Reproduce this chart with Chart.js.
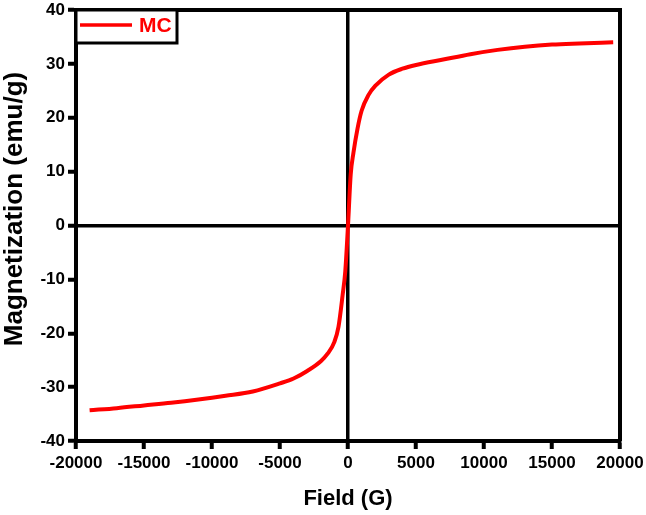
<!DOCTYPE html>
<html>
<head>
<meta charset="utf-8">
<script src="https://cdn.jsdelivr.net/npm/chart.js@4.4.1/dist/chart.umd.min.js"></script>
<style>
  html, body { margin: 0; padding: 0; background: #fff; }
  #wrap { width: 646px; height: 515px; position: relative; }
</style>
</head>
<body>
<div id="wrap"><canvas id="c" width="646" height="515"></canvas></div>
<script>
// ---- data ----
const seriesLabel = "MC";
const fieldG = [-19000, -17000, -15000, -13000, -11000, -9000, -7000, -5000, -4000, -3000, -2000, -1500, -1000, -700, -400, -200, 0,
                200, 400, 700, 1000, 1500, 2000, 3000, 4000, 5000, 7000, 9000, 11000, 13000, 15000, 17000, 19500];
const magnetization = [-34.3, -33.9, -33.4, -32.9, -32.3, -31.6, -30.8, -29.3, -28.4, -27.0, -25.2, -23.8, -21.6, -18.8, -13.0, -8.5, 0,
                9.5, 13.5, 18.0, 21.3, 24.2, 25.9, 28.0, 29.1, 29.8, 30.8, 31.8, 32.6, 33.2, 33.6, 33.8, 34.0];
const xTicks = { min: -20000, max: 20000, step: 5000 };
const yTicks = { min: -40, max: 40, step: 10 };
const xTitle = "Field (G)";
const yTitle = "Magnetization (emu/g)";

const points = fieldG.map((x, i) => ({ x: x, y: magnetization[i] }));

const FONT = "'Liberation Sans', Arial, sans-serif";

const framePlugin = {
  id: 'frame',
  afterDraw(chart) {
    const { ctx, chartArea: a } = chart;
    ctx.save();
    ctx.strokeStyle = '#000';
    ctx.lineWidth = 4;
    ctx.beginPath();
    ctx.moveTo(a.left - 2, a.top);
    ctx.lineTo(a.right, a.top);
    ctx.lineTo(a.right, a.bottom);
    ctx.stroke();
    // legend box
    const bx = a.left, by = a.top, bw = 101, bh = 33;
    ctx.fillStyle = '#fff';
    ctx.fillRect(bx, by, bw, bh);
    ctx.lineWidth = 3;
    ctx.strokeRect(bx, by, bw, bh);
    const ds = chart.data.datasets[0];
    ctx.strokeStyle = ds.borderColor;
    ctx.lineWidth = 3.5;
    ctx.beginPath();
    ctx.moveTo(bx + 4, by + 15);
    ctx.lineTo(bx + 56, by + 15);
    ctx.stroke();
    ctx.fillStyle = ds.borderColor;
    ctx.font = "bold 21px " + FONT;
    ctx.textBaseline = 'middle';
    ctx.textAlign = 'left';
    ctx.fillText(ds.label, bx + 63, by + 16);
    // y axis title
    ctx.fillStyle = '#000';
    ctx.font = "bold 26px " + FONT;
    ctx.textAlign = 'center';
    ctx.translate(15, 209);
    ctx.rotate(-Math.PI / 2);
    ctx.fillText(yTitle, 0, 0);
    ctx.restore();
  }
};

const plainTick = v => String(v);

new Chart(document.getElementById('c'), {
  type: 'line',
  data: {
    datasets: [{
      label: seriesLabel,
      data: points,
      borderColor: '#ff0000',
      backgroundColor: '#ff0000',
      borderWidth: 4,
      pointRadius: 0,
      cubicInterpolationMode: 'monotone',
      fill: false
    }]
  },
  options: {
    responsive: false,
    animation: false,
    devicePixelRatio: 1,
    layout: { padding: { left: 0, top: 10, right: 26, bottom: 0 } },
    plugins: { legend: { display: false }, tooltip: { enabled: false } },
    scales: {
      x: {
        type: 'linear',
        min: xTicks.min, max: xTicks.max,
        afterFit(s) { s.height = 74; s.paddingLeft = 0; s.paddingRight = 0; },
        ticks: { stepSize: xTicks.step, color: '#000', padding: 4, maxRotation: 0, autoSkip: false,
                 callback: plainTick,
                 font: { family: FONT, size: 17, weight: 'bold' } },
        grid: {
          drawOnChartArea: true, drawTicks: true, tickLength: 8, tickWidth: 4, tickColor: '#000',
          lineWidth: 3.5,
          color: c => (c.tick && c.tick.value === 0) ? '#000' : 'rgba(0,0,0,0)'
        },
        border: { display: true, color: '#000', width: 4 },
        title: { display: true, text: xTitle, color: '#000', padding: { top: 0, bottom: 3 },
                 font: { family: FONT, size: 22, weight: 'bold' } }
      },
      y: {
        type: 'linear',
        min: yTicks.min, max: yTicks.max,
        afterFit(s) { s.width = 76; s.paddingTop = 0; s.paddingBottom = 0; },
        ticks: { stepSize: yTicks.step, color: '#000', padding: 3,
                 callback: plainTick,
                 font: { family: FONT, size: 17, weight: 'bold' } },
        grid: {
          drawOnChartArea: true, drawTicks: true, tickLength: 8, tickWidth: 4, tickColor: '#000',
          lineWidth: 3.5,
          color: c => (c.tick && c.tick.value === 0) ? '#000' : 'rgba(0,0,0,0)'
        },
        border: { display: true, color: '#000', width: 4 },
        title: { display: false, text: yTitle }
      }
    }
  },
  plugins: [framePlugin]
});
</script>
</body>
</html>
